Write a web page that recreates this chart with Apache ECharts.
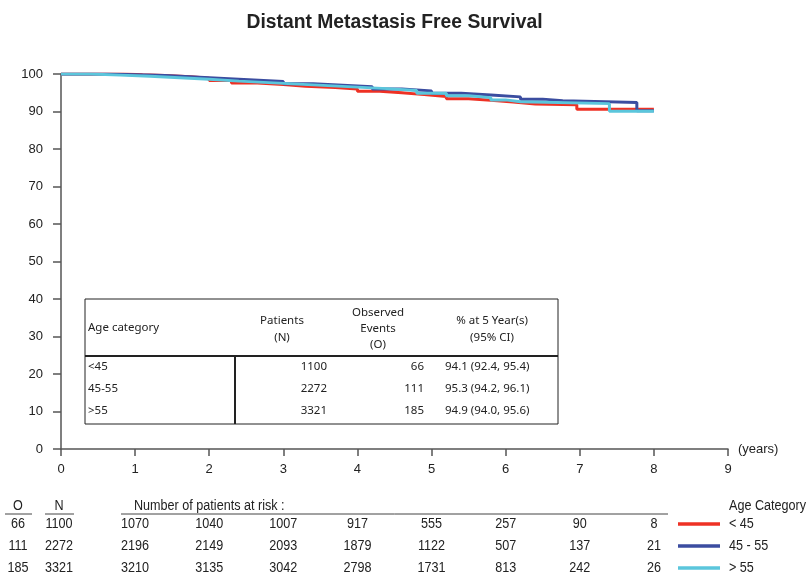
<!DOCTYPE html>
<html><head><meta charset="utf-8">
<script src="https://cdn.jsdelivr.net/npm/echarts@6/dist/echarts.min.js"></script>
<style>html,body{margin:0;padding:0;background:#fff}#c{width:808px;height:580px}</style>
</head><body><div id="c"></div>
<script>
const chartTitle = 'Distant Metastasis Free Survival';
const groupLabels = ['< 45', '45 - 55', '> 55'];
const groupColors = ['#ee3124', '#3b4da0', '#5bc6dc'];

const t_lt45 = [0, 0.85, 1.1, 1.4, 1.75, 2.0, 2.3, 2.65, 3.0, 3.3, 3.7, 4.0, 4.3, 4.6, 4.9, 5.2, 5.5, 5.8, 6.1, 6.4, 6.96, 8.0];
const s_lt45 = [100, 99.8, 99.6, 99.3, 98.9, 98.3, 97.6, 97.2, 96.7, 96.4, 96.0, 95.4, 95.0, 94.5, 94.0, 93.4, 93.0, 92.5, 92.0, 91.8, 90.6, 90.6];
const t_45_55 = [0, 0.6, 1.0, 1.4, 1.8, 2.2, 2.6, 3.0, 3.4, 3.8, 4.2, 4.6, 5.0, 5.4, 5.8, 6.2, 6.5, 6.77, 7.77, 8.0];
const s_45_55 = [100, 99.8, 99.6, 99.2, 98.8, 98.4, 98.0, 97.4, 97.0, 96.6, 96.0, 95.5, 94.9, 94.4, 93.9, 93.3, 92.9, 92.4, 90.2, 90.2];
const t_gt55 = [0, 0.4, 0.8, 1.2, 1.6, 2.0, 2.4, 2.8, 3.2, 3.6, 4.0, 4.4, 4.8, 5.2, 5.5, 5.8, 6.0, 6.2, 7.4, 8.0];
const s_gt55 = [100, 99.7, 99.4, 99.0, 98.6, 98.1, 97.7, 97.3, 96.9, 96.5, 96.1, 95.6, 94.9, 94.2, 93.7, 93.1, 92.6, 92.1, 90.1, 90.1];

const riskYears = [1, 2, 3, 4, 5, 6, 7, 8];
const risk_lt45 = [1070, 1040, 1007, 917, 555, 257, 90, 8];
const risk_45_55 = [2196, 2149, 2093, 1879, 1122, 507, 137, 21];
const risk_gt55 = [3210, 3135, 3042, 2798, 1731, 813, 242, 26];
const observedO = [66, 111, 185];
const patientsN = [1100, 2272, 3321];

const tableGroups = ['<45', '45-55', '>55'];
const tableCI = ['94.1 (92.4, 95.4)', '95.3 (94.2, 96.1)', '94.9 (94.0, 95.6)'];

const SANS = "'Liberation Sans', Arial, sans-serif";
const TABLEF = "'Noto Sans', 'Open Sans', sans-serif";

function zip(t, s) { return t.map((v, i) => [v, s[i]]); }
const seriesData = [zip(t_lt45, s_lt45), zip(t_45_55, s_45_55), zip(t_gt55, s_gt55)];
const riskRows = [risk_lt45, risk_45_55, risk_gt55];

const chart = echarts.init(document.getElementById('c'), null, {renderer: 'canvas'});
const axisColor = '#555';
chart.setOption({
  animation: false,
  backgroundColor: '#fff',
  grid: {left: 61, right: 80, top: 74, bottom: 131, containLabel: false},
  xAxis: {
    type: 'value', min: 0, max: 9, interval: 1,
    name: '(years)', nameLocation: 'end', nameGap: 10,
    nameTextStyle: {fontSize: 13, color: '#222', fontFamily: SANS},
    axisLine: {show: true, lineStyle: {color: axisColor, width: 1.5}},
    axisTick: {show: true, length: 7, lineStyle: {color: axisColor, width: 1.5}},
    axisLabel: {margin: 14, fontSize: 13, color: '#222', fontFamily: SANS},
    splitLine: {show: false}
  },
  yAxis: {
    type: 'value', min: 0, max: 100, interval: 10,
    axisLine: {show: true, lineStyle: {color: axisColor, width: 1.5}},
    axisTick: {show: true, length: 8, lineStyle: {color: axisColor, width: 1.5}},
    axisLabel: {margin: 18, fontSize: 13, color: '#222', fontFamily: SANS},
    splitLine: {show: false}
  },
  series: seriesData.map((d, i) => ({
    type: 'line', step: 'end', data: d, showSymbol: false, symbol: 'none',
    lineStyle: {color: groupColors[i], width: 3}, z: 2 + i
  }))
});

const g = [];
function txt(x, y, text, opts) {
  opts = opts || {};
  g.push({type: 'text', x: x, y: y, scaleX: opts.sx || 1, silent: true, z: 100, style: {
    x: 0, y: 0, text: text, fill: opts.fill || '#222', font: opts.font || ('11px ' + TABLEF),
    textAlign: opts.align || 'left', textVerticalAlign: 'middle'}});
}
function line(x1, y1, x2, y2, w, c) {
  g.push({type: 'line', silent: true, z: 100, shape: {x1, y1, x2, y2}, style: {stroke: c || '#222', lineWidth: w || 1}});
}
// title
txt(394.5, 22, chartTitle, {font: 'bold 20px ' + SANS, align: 'center', sx: 0.965, fill: '#222'});
// summary table
g.push({type: 'rect', silent: true, z: 99, shape: {x: 85, y: 299, width: 473, height: 125}, style: {fill: '#fff', stroke: '#222', lineWidth: 1}});
line(85, 356, 558, 356, 2);
line(235, 356, 235, 424, 2);
const TF = '11.5px ' + TABLEF;
txt(88, 328, 'Age category', {font: TF});
txt(282, 321, 'Patients', {font: TF, align: 'center'});
txt(282, 338, '(N)', {font: TF, align: 'center'});
txt(378, 313, 'Observed', {font: TF, align: 'center'});
txt(378, 329, 'Events', {font: TF, align: 'center'});
txt(378, 345, '(O)', {font: TF, align: 'center'});
txt(492, 321, '% at 5 Year(s)', {font: TF, align: 'center'});
txt(492, 338, '(95% CI)', {font: TF, align: 'center'});
const rowY = [367, 389, 411];
tableGroups.forEach((lab, i) => {
  txt(88, rowY[i], lab, {font: TF});
  txt(327, rowY[i], String(patientsN[i]), {font: TF, align: 'right'});
  txt(424, rowY[i], String(observedO[i]), {font: TF, align: 'right'});
  txt(445, rowY[i], tableCI[i], {font: TF});
});
// number at risk table
const NF = '14px ' + SANS;
const NS = 0.9;
txt(18, 506, 'O', {font: NF, align: 'center', sx: NS});
txt(59, 506, 'N', {font: NF, align: 'center', sx: NS});
line(5, 514, 32, 514, 1, '#444');
line(45, 514, 74, 514, 1, '#444');
txt(134, 506, 'Number of patients at risk :', {font: NF, sx: NS});
line(121, 514, 668, 514, 1, '#444');
txt(729, 506, 'Age Category', {font: NF, sx: NS});
const riskY = [524, 546, 568];
riskRows.forEach((row, r) => {
  txt(18, riskY[r], String(observedO[r]), {font: NF, align: 'center', sx: NS});
  txt(59, riskY[r], String(patientsN[r]), {font: NF, align: 'center', sx: NS});
  riskYears.forEach((yr, k) => {
    const px = chart.convertToPixel({xAxisIndex: 0}, yr);
    txt(px, riskY[r], String(row[k]), {font: NF, align: 'center', sx: NS});
  });
  line(678, riskY[r], 720, riskY[r], 3.5, groupColors[r]);
  txt(729, riskY[r], groupLabels[r], {font: NF, sx: NS});
});
chart.setOption({graphic: {elements: g}});
</script>
</body></html>
